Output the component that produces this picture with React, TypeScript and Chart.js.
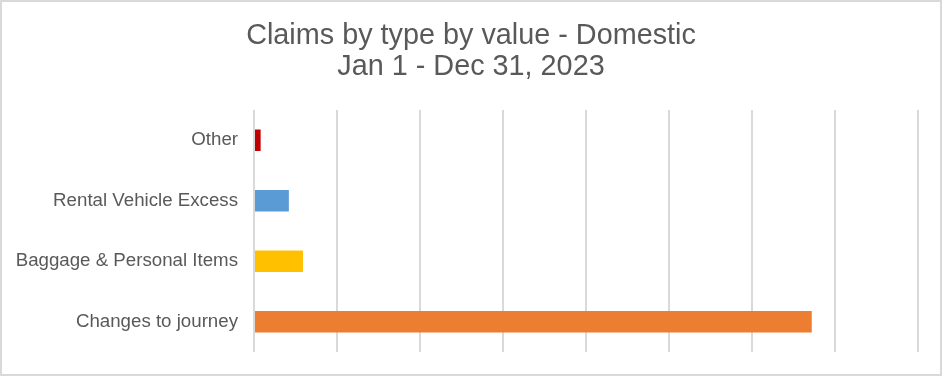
import React, { useEffect, useRef } from "react";
import { Chart, registerables } from "chart.js";

Chart.register(...registerables);

const categories = ["Other", "Rental Vehicle Excess", "Baggage & Personal Items", "Changes to journey"];
const claimValues = [800, 4200, 5900, 67200];
const barColors = ["#C00000", "#5B9BD5", "#FFC000", "#ED7D31"];
const titleLines = ["Claims by type by value - Domestic", "Jan 1 - Dec 31, 2023"];
const axisMax = 80000;
const axisStep = 10000;

const FONT = "'Liberation Sans', Arial, sans-serif";

const decorPlugin = {
  id: "decor",
  afterDraw(chart: any) {
    const ctx = chart.ctx;
    ctx.save();
    ctx.fillStyle = "#595959";
    ctx.font = `normal 28.8px ${FONT}`;
    ctx.textAlign = "center";
    ctx.textBaseline = "middle";
    const cx = chart.width / 2;
    titleLines.forEach((line, i) => ctx.fillText(line, cx, 36.5 + i * 31));
    ctx.strokeStyle = "#d9d9d9";
    ctx.lineWidth = 2;
    ctx.strokeRect(1, 1, chart.width - 2, chart.height - 2);
    ctx.restore();
  },
};

export default function App() {
  const ref = useRef<HTMLCanvasElement | null>(null);
  useEffect(() => {
    document.body.style.margin = "0";
    const chart = new Chart(ref.current!, {
      type: "bar",
      data: {
        labels: categories,
        datasets: [
          {
            data: claimValues,
            backgroundColor: barColors,
            barPercentage: 0.355,
            categoryPercentage: 1,
          },
        ],
      },
      options: {
        indexAxis: "y",
        responsive: false,
        animation: false,
        layout: { padding: { left: 0, right: 24, bottom: 24, top: 110 } },
        plugins: {
          legend: { display: false },
          tooltip: { enabled: false },
          title: { display: false },
        },
        scales: {
          x: {
            min: 0,
            max: axisMax,
            ticks: { display: false, stepSize: axisStep },
            grid: { color: "#d9d9d9", lineWidth: 2, drawTicks: false },
            border: { display: false },
            afterFit(scale: any) {
              scale.height = 0;
              scale.paddingLeft = 0;
              scale.paddingRight = 0;
            },
          },
          y: {
            ticks: { color: "#595959", padding: 16, font: { family: FONT, size: 18.7 } },
            grid: { display: false, drawTicks: false },
            border: { display: false },
            afterFit(scale: any) {
              scale.width = 254;
              scale.paddingTop = 0;
              scale.paddingBottom = 0;
            },
          },
        },
      },
      plugins: [decorPlugin],
    });
    return () => chart.destroy();
  }, []);
  return (
    <div style={{ position: "absolute", left: 0, top: 0, width: 942, height: 376 }}>
      <canvas ref={ref} width={942} height={376} />
    </div>
  );
}
